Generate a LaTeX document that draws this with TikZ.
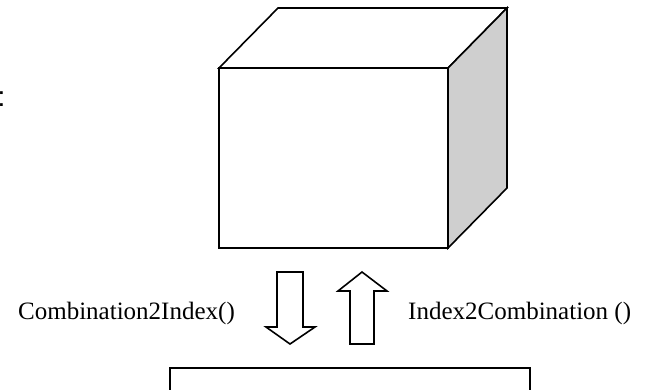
\documentclass[tikz,border=0pt]{standalone}
\usepackage{fontspec}
\setmainfont{Liberation Serif}
\newfontfamily\colonfont{Liberation Sans}
\tikzset{
  edge/.style={draw=black, line width=1.6bp, line join=miter},
  face/.style={edge, fill=white},
  sideface/.style={edge, fill=black!19},
  bigarrow/.style={edge, fill=white},
  lbl/.style={font=\fontsize{25bp}{30bp}\selectfont, inner sep=0pt},
}
\begin{document}
\begin{tikzpicture}[x=1bp, y=-1bp]
\useasboundingbox (0,0) rectangle (650,389);
% cube corners
\coordinate (ftl) at (219,68);
\coordinate (ftr) at (448,68);
\coordinate (fbr) at (448,248);
\coordinate (fbl) at (219,248);
\coordinate (btl) at (278,8);
\coordinate (btr) at (507,8);
\coordinate (bbr) at (507,188);
% faces
\path[face] (ftl) -- (btl) -- (btr) -- (ftr) -- cycle;
\path[sideface] (ftr) -- (btr) -- (bbr) -- (fbr) -- cycle;
\path[face] (ftl) -- (ftr) -- (fbr) -- (fbl) -- cycle;
% down arrow
\path[bigarrow] (277,272) -- (303,272) -- (303,327) -- (315,327) -- (290,344)
  -- (266,327) -- (277,327) -- cycle;
% up arrow
\path[bigarrow] (362,272) -- (387,291) -- (374,291) -- (374,344) -- (350,344)
  -- (350,291) -- (338,291) -- cycle;
% labels
\node[lbl, anchor=base east] (c2i) at (235,319) {Combination2Index()};
\node[lbl, anchor=base west] (i2c) at (408,319) {Index2Combination ()};
% partial colon at the left edge
\node[inner sep=0pt, anchor=base west, font=\colonfont\fontsize{28bp}{32bp}\selectfont] (colon) at (-2.6,106) {:};
% bottom box (cut by the lower edge)
\path[face] (170,368) rectangle (530,400);
\end{tikzpicture}
\end{document}
